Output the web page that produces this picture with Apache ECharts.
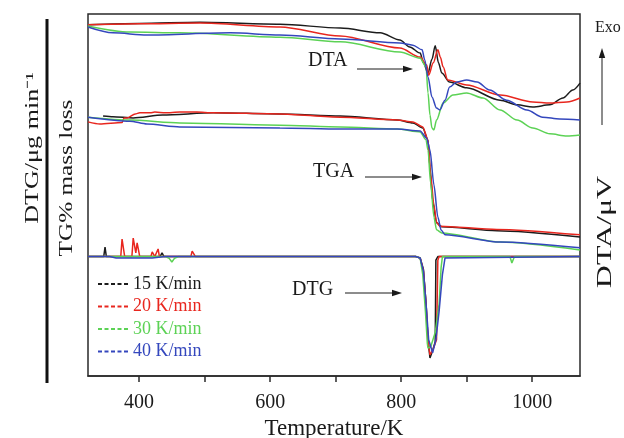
<!DOCTYPE html>
<html>
<head>
<meta charset="utf-8">
<script src="https://cdn.jsdelivr.net/npm/echarts@6/dist/echarts.min.js"></script>
<style>
  html, body { margin: 0; padding: 0; background: #fff; }
  #chart { width: 624px; height: 438px; }
</style>
</head>
<body>
<div id="chart"></div>
<script>
// Heating rates and their colours
const rates = ['15 K/min', '20 K/min', '30 K/min', '40 K/min'];
const colors = ['#1c1c1c', '#e8261e', '#5cd255', '#3447bd'];

// Temperature axis ticks (K)
const xTicks = [400, 500, 600, 700, 800, 900, 1000];
const xLabels = [400, 600, 800, 1000];

// DTA traces: [temperature K, relative signal]
const dta15 = [[322,97.0],[400,97.4],[493,97.7],[615,97.2],[707,96.1],[768,94.8],[798,92.8],[813,90.9],[829,89.2],[834,86.5],[841,83.7],[847,87.5],[852,91.2],[857,86.5],[862,83.7],[874,81.2],[900,79.6],[951,76.2],[977,74.9],[1001,74.3],[1027,74.9],[1047,76.8],[1062,79.0],[1073,80.9]];
const dta20 = [[322,97.0],[400,97.3],[493,97.5],[615,96.4],[707,93.9],[798,90.6],[829,88.1],[839,85.9],[842,83.1],[849,86.5],[856,90.1],[860,88.0],[864,85.4],[871,81.8],[900,80.4],[951,77.6],[1001,75.7],[1027,75.4],[1053,75.7],[1073,76.8]];
const dta30 = [[322,96.7],[386,95.0],[462,94.8],[615,93.6],[707,92.3],[798,89.5],[829,87.8],[838,85.4],[841,78.2],[844,72.1],[847,68.5],[850,68.0],[854,70.7],[864,75.4],[879,77.6],[900,78.2],[925,76.8],[951,73.5],[977,70.7],[1001,68.5],[1027,66.9],[1053,66.3],[1073,66.6]];
const dta40 = [[322,96.4],[360,94.8],[412,94.2],[539,94.8],[615,94.2],[707,93.1],[798,92.0],[818,91.4],[832,90.1],[836,87.3],[841,82.6],[847,77.1],[854,74.0],[859,73.5],[867,76.2],[874,79.8],[885,81.2],[900,81.8],[916,81.2],[935,79.0],[961,76.2],[992,73.5],[1016,71.5],[1042,71.0],[1073,70.7]];

// TG traces: [temperature K, relative mass signal]
const tg15 = [[345,71.8],[360,71.6],[391,71.3],[436,72.1],[513,72.7],[615,72.4],[707,71.8],[794,70.7],[818,69.9],[833,68.5],[841,65.2],[844,57.7],[848,48.6],[854,42.3],[862,41.2],[946,40.1],[1073,38.4]];
const tg20 = [[322,70.2],[340,69.6],[374,70.0],[377,71.3],[382,71.3],[394,72.4],[401,72.7],[417,72.7],[424,72.9],[440,72.7],[462,72.9],[488,72.9],[513,72.7],[615,72.4],[707,71.5],[794,70.7],[818,70.2],[833,68.8],[841,65.2],[845,55.5],[850,47.2],[854,42.5],[859,41.4],[946,40.5],[1073,39.0]];
const tg30 = [[322,71.5],[386,70.7],[462,69.9],[615,69.3],[707,68.8],[794,68.2],[829,67.4],[838,65.2],[841,62.4],[845,53.3],[850,43.9],[854,40.4],[862,39.5],[951,37.0],[1073,34.8]];
const tg40 = [[322,71.5],[386,70.4],[412,69.6],[462,68.8],[615,68.5],[707,68.2],[794,68.2],[829,67.7],[839,65.7],[844,62.4],[850,52.8],[856,43.9],[861,40.3],[867,39.0],[951,37.0],[1073,35.4]];

// DTG traces: [temperature K, relative rate signal]
const dtg15 = [[322,33.0],[346,33.0],[348,35.6],[350,33.0],[432,33.0],[435,34.0],[438,33.0],[822,33.0],[829,32.6],[834,29.5],[838,20.0],[841,10.0],[844,5.0],[848,7.0],[852,9.5],[853,32.0],[856,33.0],[1073,33.0]];
const dtg20 = [[322,33.0],[372,33.0],[374,37.8],[376,37.8],[378,33.0],[389,33.0],[391,38.1],[393,38.1],[395,34.0],[397,36.8],[399,36.8],[401,33.0],[418,33.0],[420,34.3],[422,34.3],[424,33.0],[427,33.0],[429,35.1],[431,33.0],[479,33.0],[481,34.5],[484,34.5],[486,33.0],[822,33.0],[829,32.6],[834,29.0],[838,20.0],[841,10.0],[844,5.8],[849,7.5],[854,10.0],[856,32.0],[858,33.0],[1073,33.0]];
const dtg30 = [[322,33.0],[440,33.0],[446,32.5],[450,31.5],[454,32.5],[460,33.0],[822,33.0],[829,32.6],[833,28.0],[837,18.0],[840,9.0],[841,7.7],[845,8.0],[852,12.0],[858,20.0],[861,30.0],[863,33.0],[966,33.0],[969,31.2],[971,31.2],[973,33.0],[1073,33.0]];
const dtg40 = [[322,33.0],[355,33.0],[365,32.6],[420,32.6],[440,33.0],[822,33.0],[829,32.6],[834,29.0],[838,20.0],[842,10.0],[848,6.4],[853,10.0],[858,18.0],[863,28.0],[867,32.6],[870,33.0],[1073,33.0]];

const dtaSets = [dta15, dta20, dta30, dta40];
const tgSets = [tg15, tg20, tg30, tg40];
const dtgSets = [dtg15, dtg20, dtg30, dtg40];

const serif = "'Liberation Serif', 'Times New Roman', serif";
const ink = '#1a1a1a';

function lineSeries(name, data, color, smooth) {
  return {
    type: 'line', name: name, data: data, color: color,
    showSymbol: false, symbol: 'none', smooth: smooth, smoothMonotone: 'x',
    lineStyle: { width: 1.5, color: color }, animation: false
  };
}

const series = [];
rates.forEach((r, i) => {
  series.push(lineSeries(r, tgSets[i], colors[i], 0.25));
  series.push(lineSeries(r, dtaSets[i], colors[i], 0.3));
  series.push(lineSeries(r, dtgSets[i], colors[i], false));
});

// Horizontal arrow pointing right, ending at x2
function arrowRight(x1, x2, y) {
  return [
    { type: 'line', shape: { x1: x1, y1: y, x2: x2 - 6, y2: y }, style: { stroke: ink, lineWidth: 1 } },
    { type: 'polygon', shape: { points: [[x2, y], [x2 - 10, y - 3.2], [x2 - 10, y + 3.2]] }, style: { fill: ink } }
  ];
}

function label(text, x, y, size, extra) {
  return Object.assign({
    type: 'text', x: x, y: y,
    style: { text: text, fontFamily: serif, fontSize: size, fill: ink, align: 'left', verticalAlign: 'middle' }
  }, extra || {});
}

const graphics = [
  // separator bar next to the outer axis title
  { type: 'line', shape: { x1: 47, y1: 19, x2: 47, y2: 383 }, style: { stroke: '#111', lineWidth: 3 } },
  { type: 'text', x: 33, y: 148, rotation: Math.PI / 2, scaleX: 1.45,
    style: { text: 'DTG/\u03bcg min\u207b\u00b9', fontFamily: serif, fontSize: 18, fill: ink, align: 'center', verticalAlign: 'middle' } },
  { type: 'text', x: 67, y: 178, rotation: Math.PI / 2, scaleX: 1.4,
    style: { text: 'TG% mass loss', fontFamily: serif, fontSize: 18, fill: ink, align: 'center', verticalAlign: 'middle' } },
  { type: 'text', x: 606, y: 232, rotation: Math.PI / 2, scaleX: 1.6,
    style: { text: 'DTA/\u03bcV', fontFamily: serif, fontSize: 20, fill: ink, align: 'center', verticalAlign: 'middle' } },
  label('Exo', 595, 28, 16),
  { type: 'line', shape: { x1: 602, y1: 125, x2: 602, y2: 56 }, style: { stroke: ink, lineWidth: 1 } },
  { type: 'polygon', shape: { points: [[602, 48], [598.8, 58], [605.2, 58]] }, style: { fill: ink } },
  label('DTA', 308, 61, 20),
  label('TGA', 313, 172, 20),
  label('DTG', 292, 290, 20)
].concat(arrowRight(357, 413, 69), arrowRight(365, 422, 177), arrowRight(345, 402, 293));

const chart = echarts.init(document.getElementById('chart'), null, { renderer: 'canvas' });
chart.setOption({
  backgroundColor: '#fff',
  animation: false,
  grid: { left: 88, right: 44, top: 14, bottom: 62, show: true, borderColor: '#2a2a2a', borderWidth: 1.5, containLabel: false, outerBoundsMode: 'none' },
  xAxis: {
    type: 'value', min: 322, max: 1073,
    name: 'Temperature/K', nameLocation: 'middle', nameGap: 39,
    nameTextStyle: { fontFamily: serif, fontSize: 23, color: ink },
    axisLine: { show: true, lineStyle: { color: '#2a2a2a', width: 1.5 } },
    axisTick: { show: true, inside: false, length: 6, customValues: xTicks, lineStyle: { color: '#2a2a2a', width: 1.5 } },
    axisLabel: { customValues: xLabels, formatter: (v) => String(v), fontFamily: serif, fontSize: 20, color: ink, margin: 17 },
    splitLine: { show: false }
  },
  yAxis: { type: 'value', min: 0, max: 100, show: false },
  legend: {
    orient: 'vertical', left: 98, top: 275, padding: 0, itemWidth: 30, itemHeight: 2, itemGap: 4.5,
    icon: 'path://M0,0h4v1h-4z M6.5,0h4v1h-4z M13,0h4v1h-4z M19.5,0h4v1h-4z M26,0h4v1h-4z',
    symbolKeepAspect: false, selectedMode: false,
    textStyle: { fontFamily: serif, fontSize: 18 },
    data: rates.map((r, i) => ({ name: r, textStyle: { color: colors[i] } }))
  },
  series: series,
  graphic: graphics
});
</script>
</body>
</html>
